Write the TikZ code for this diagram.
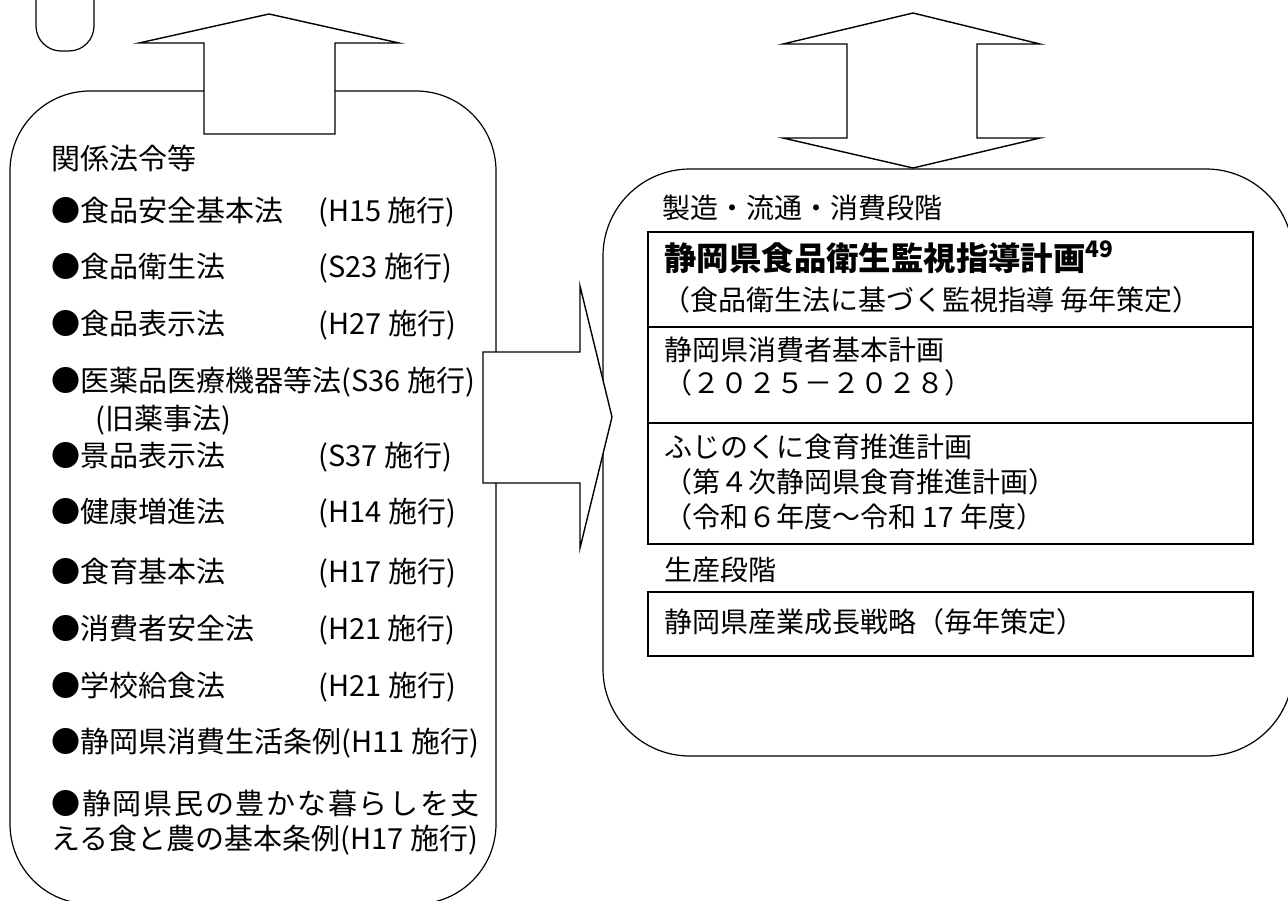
\documentclass[tikz,border=0pt]{standalone}
\usepackage{fontspec}
\setmainfont{Noto Sans CJK JP}

\tikzset{
    bigbox/.style={draw, line width=0.6pt, fill=white, rounded corners=40pt},
    planbox/.style={draw, line width=0.9pt},
    blockarrow/.style={draw, line width=0.7pt, fill=white, line join=miter},
    law/.style={anchor=west, inner sep=0pt, font=\fontsize{14.5}{17}\selectfont},
    plan/.style={anchor=west, inner sep=0pt, font=\fontsize{14}{17}\selectfont},
}

\begin{document}
\begin{tikzpicture}[x=0.5pt, y=-0.5pt]
    \useasboundingbox (0,0) rectangle (1288,900);
    % outer frames
    \draw[bigbox, rounded corners=12.5pt] (36,-40) rectangle (94,51);
    \draw[bigbox] (10,91) rectangle (496,904);
    \draw[bigbox, rounded corners=43.5pt] (603,169) rectangle (1293,756);
    % plan boxes
    \draw[planbox] (648,232) rectangle (1253,544);
    \draw[planbox] (648,327) -- (1253,327);
    \draw[planbox] (648,423) -- (1253,423);
    \draw[planbox] (648,592) rectangle (1253,656);
    % block arrows
    \draw[blockarrow] (204,134) -- (204,43) -- (139,43) -- (269,14) -- (399,43)
        -- (335,43) -- (335,134) -- cycle;
    \draw[blockarrow] (847,44) -- (783,44) -- (913,13) -- (1040,44) -- (977,44)
        -- (977,138) -- (1040,138) -- (913,168) -- (783,138) -- (847,138) -- cycle;
    \draw[blockarrow] (483,352) -- (580,352) -- (580,286) -- (612,417) -- (580,548)
        -- (580,483) -- (483,483) -- cycle;

    % laws
    \node[law] (lawhdr) at (51,158) {関係法令等};
    \node[law] (law1)  at (51,212) {\makebox[133.5pt][l]{●食品安全基本法}(H15 施行)};
    \node[law] (law2)  at (51,268) {\makebox[133.5pt][l]{●食品衛生法}(S23 施行)};
    \node[law] (law3)  at (51,325) {\makebox[133.5pt][l]{●食品表示法}(H27 施行)};
    \node[law] (law4)  at (51,382) {●医薬品医療機器等法(S36 施行)};
    \node[law] (law4b) at (95,420) {(旧薬事法)};
    \node[law] (law5)  at (51,457) {\makebox[133.5pt][l]{●景品表示法}(S37 施行)};
    \node[law] (law6)  at (51,513) {\makebox[133.5pt][l]{●健康増進法}(H14 施行)};
    \node[law] (law7)  at (51,573) {\makebox[133.5pt][l]{●食育基本法}(H17 施行)};
    \node[law] (law8)  at (51,630) {\makebox[133.5pt][l]{●消費者安全法}(H21 施行)};
    \node[law] (law9)  at (51,687) {\makebox[133.5pt][l]{●学校給食法}(H21 施行)};
    \node[law] (law10) at (51,743) {●静岡県消費生活条例(H11 施行)};
    \node[law] (law11) at (51,803) {\addfontfeature{LetterSpace=6}●静岡県民の豊かな暮らしを支};
    \node[law] (law11b) at (51,840) {える食と農の基本条例(H17 施行)};

    % plans
    \node[plan] (stage1) at (662,208) {製造・流通・消費段階};
    \node[plan, font=\fontsize{16.2}{19}\selectfont\bfseries] (hygtitle) at (664,257)
        {静岡県食品衛生監視指導計画\textsuperscript{49}};
    \node[plan] (hygsub) at (662,300) {（食品衛生法に基づく監視指導 毎年策定）};
    \node[plan] (cons) at (664,350) {静岡県消費者基本計画};
    \node[plan] (consyr) at (664,383) {（２０２５－２０２８）};
    \node[plan] (diet) at (664,447) {ふじのくに食育推進計画};
    \node[plan] (dietsub) at (664,482) {（第４次静岡県食育推進計画）};
    \node[plan] (dietyr) at (664,517) {（令和６年度～令和 17 年度）};
    \node[plan] (stage2) at (664,570) {生産段階};
    \node[plan] (ind) at (664,622) {静岡県産業成長戦略（毎年策定）};
\end{tikzpicture}
\end{document}
